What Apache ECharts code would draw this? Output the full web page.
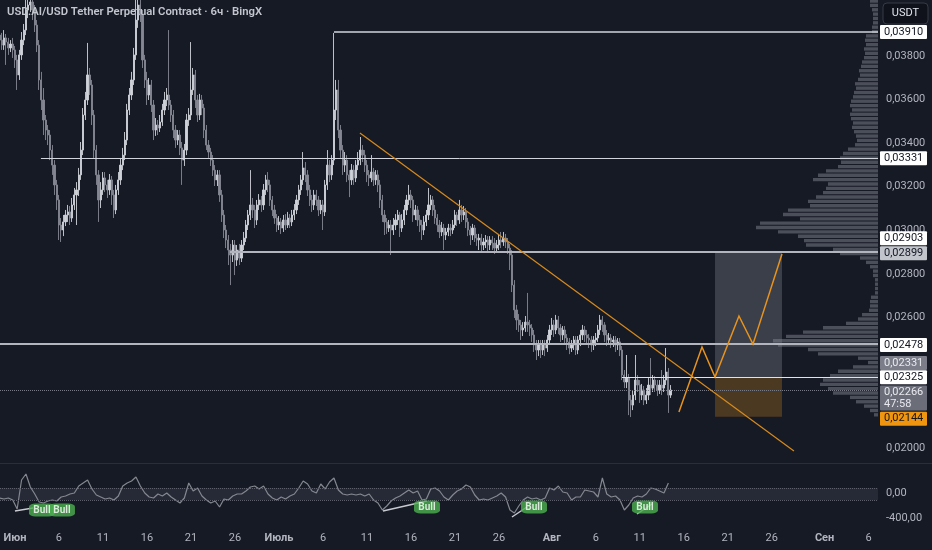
<!DOCTYPE html>
<html><head><meta charset="utf-8">
<script src="https://cdn.jsdelivr.net/npm/echarts@6/dist/echarts.min.js"></script>
<style>html,body{margin:0;padding:0;background:#161a25;}#c{width:932px;height:550px;}</style>
</head><body><div id="c"></div>
<script>
// ---------- DATA ----------
const title = 'USD.AI/USD Tether Perpetual Contract · 6ч · BingX';
const firstBarDay = -1.75;   // day offset from 1 June of the first 6h bar
const barStep = 0.25;        // 6h in days
const firstOpen = .03896;
const closes = [
.03873,.03850,.03883,.03864,.03837,.03855,.03828,.03782,.03713,.03805,
.03873,.03919,.04011,.04034,.04048,.04011,.03942,.03850,.03690,.03598,
.03506,.03460,.03437,.03368,.03299,.03208,.03139,.03024,.03001,.03038,
.03070,.03084,.03056,.03116,.03162,.03185,.03254,.03368,.03529,.03598,
.03713,.03667,.03529,.03368,.03254,.03139,.03185,.03240,.03208,.03185,
.03231,.03162,.03093,.03185,.03231,.03299,.03345,.03414,.03552,.03621,
.03690,.03805,.03965,.04034,.03988,.03782,.03690,.03621,.03667,.03575,
.03460,.03483,.03469,.03497,.03552,.03598,.03621,.03575,.03529,.03460,
.03414,.03437,.03378,.03322,.03368,.03506,.03529,.03644,.03713,.03598,
.03529,.03598,.03561,.03460,.03391,.03359,.03322,.03276,.03231,.03254,
.03162,.03070,.03001,.02955,.02909,.02886,.02932,.02863,.02909,.02872,
.02932,.02964,.03024,.03070,.03116,.03093,.03047,.03116,.03139,.03116,
.03185,.03231,.03208,.03139,.03093,.03056,.03024,.03038,.03010,.03047,
.03024,.03056,.03038,.03070,.03093,.03139,.03185,.03231,.03286,.03254,
.03185,.03139,.03116,.03162,.03139,.03093,.03116,.03084,.03208,.03299,
.03254,.03322,.03552,.03644,.03460,.03368,.03299,.03322,.03254,.03231,
.03276,.03240,.03299,.03322,.03368,.03345,.03299,.03254,.03240,.03267,
.03231,.03254,.03208,.03139,.03070,.03038,.03010,.03024,.03001,.03024,
.03047,.03070,.03010,.03047,.03093,.03139,.03162,.03139,.03070,.03093,
.03047,.03024,.03001,.03038,.03070,.03116,.03139,.03093,.03056,.03024,
.02992,.03010,.02978,.02992,.03010,.03001,.03024,.03070,.03047,.03093,
.03070,.03084,.03038,.03001,.02978,.03010,.02964,.02955,.02964,.02932,
.02946,.02955,.02932,.02955,.02941,.02918,.02932,.02955,.02946,.02964,
.02946,.02918,.02886,.02748,.02634,.02588,.02565,.02542,.02551,.02578,
.02565,.02551,.02519,.02473,.02450,.02473,.02450,.02473,.02459,.02496,
.02542,.02565,.02542,.02588,.02551,.02519,.02542,.02505,.02487,.02459,
.02473,.02496,.02450,.02496,.02519,.02542,.02519,.02505,.02496,.02473,
.02496,.02505,.02542,.02588,.02565,.02519,.02496,.02505,.02487,.02496,
.02473,.02487,.02450,.02335,.02303,.02321,.02220,.02197,.02243,.02312,
.02289,.02243,.02266,.02220,.02243,.02289,.02275,.02312,.02289,.02266,
.02289,.02275,.02312,.02349,.02243,.02266];
const highs = [
.03965,.03906,.03919,.03901,.03883,.03873,.03883,.03846,.03805,.03828,
.03910,.03947,.04103,.04126,.04149,.04094,.04034,.03965,.03873,.03727,
.03653,.03529,.03483,.03460,.03391,.03322,.03231,.03162,.03056,.03070,
.03093,.03116,.03111,.03148,.03194,.03221,.03286,.03405,.03561,.03635,
.03860,.03745,.03690,.03552,.03391,.03276,.03221,.03267,.03267,.03231,
.03258,.03249,.03185,.03208,.03267,.03332,.03378,.03451,.03580,.03653,
.03727,.03837,.04103,.04126,.04080,.04011,.03805,.03727,.03699,.03690,
.03598,.03515,.03506,.03529,.03580,.03635,.03653,.03919,.03598,.03552,
.03483,.03460,.03460,.03405,.03396,.03534,.03561,.03864,.03745,.03736,
.03621,.03626,.03621,.03580,.03483,.03414,.03378,.03345,.03299,.03276,
.03276,.03185,.03093,.03024,.02978,.02937,.02955,.02955,.02932,.02937,
.02955,.02992,.03047,.03093,.03276,.03148,.03116,.03139,.03166,.03157,
.03212,.03254,.03267,.03231,.03157,.03116,.03074,.03065,.03056,.03070,
.03074,.03084,.03074,.03093,.03120,.03162,.03208,.03254,.03359,.03313,
.03276,.03208,.03162,.03185,.03185,.03157,.03139,.03139,.03231,.03368,
.03322,.03345,.03906,.03690,.03690,.03483,.03391,.03359,.03345,.03276,
.03304,.03299,.03322,.03359,.03428,.03391,.03368,.03322,.03276,.03345,
.03286,.03276,.03276,.03231,.03162,.03093,.03056,.03047,.03047,.03056,
.03074,.03093,.03084,.03074,.03116,.03162,.03208,.03185,.03157,.03116,
.03111,.03070,.03047,.03065,.03093,.03194,.03162,.03157,.03116,.03074,
.03047,.03038,.03029,.03010,.03029,.03029,.03047,.03093,.03084,.03139,
.03116,.03111,.03102,.03056,.03019,.03029,.03024,.02983,.02983,.02983,
.02964,.02978,.02973,.02973,.02973,.02964,.02955,.02983,.02992,.02992,
.02983,.02964,.02937,.02909,.02771,.02657,.02615,.02588,.02578,.02606,
.02712,.02588,.02569,.02542,.02496,.02496,.02496,.02496,.02496,.02519,
.02565,.02597,.02588,.02611,.02606,.02569,.02560,.02560,.02523,.02505,
.02496,.02514,.02514,.02514,.02542,.02565,.02560,.02542,.02523,.02514,
.02514,.02528,.02565,.02611,.02606,.02578,.02542,.02528,.02523,.02514,
.02514,.02505,.02505,.02468,.02358,.02427,.02340,.02243,.02266,.02427,
.02335,.02312,.02294,.02285,.02275,.02321,.02413,.02335,.02330,.02312,
.02312,.02358,.02335,.02459,.02367,.02289];
const lows = [
.03805,.03828,.03828,.03759,.03805,.03818,.03791,.03745,.03644,.03690,
.03782,.03850,.03896,.03974,.04002,.03965,.03910,.03818,.03644,.03552,
.03437,.03414,.03391,.03322,.03254,.03162,.03093,.02955,.02946,.02973,
.03019,.03038,.03024,.03038,.03093,.03024,.03157,.03231,.03345,.03506,
.03575,.03621,.03483,.03332,.03208,.03038,.03102,.03162,.03175,.03148,
.03162,.03116,.03056,.03074,.03162,.03208,.03276,.03322,.03391,.03529,
.03598,.03667,.03782,.03929,.03956,.03745,.03653,.03575,.03598,.03543,
.03414,.03433,.03437,.03451,.03479,.03529,.03570,.03552,.03497,.03423,
.03378,.03391,.03345,.03208,.03295,.03345,.03479,.03506,.03621,.03561,
.03497,.03506,.03529,.03423,.03368,.03332,.03295,.03249,.03203,.03203,
.03130,.03038,.02964,.02918,.02840,.02748,.02854,.02794,.02836,.02840,
.02854,.02909,.02946,.03001,.03047,.03056,.03010,.03024,.03093,.03084,
.03093,.03162,.03175,.03111,.03065,.03029,.02992,.03001,.02983,.02992,
.03001,.03010,.03010,.03019,.03047,.03074,.03116,.03162,.03208,.03221,
.03157,.03111,.03084,.03093,.03111,.03065,.03074,.03001,.03065,.03185,
.03221,.03231,.03299,.03506,.03423,.03332,.03254,.03267,.03221,.03152,
.03208,.03208,.03221,.03276,.03299,.03313,.03267,.03221,.03203,.03221,
.03203,.03208,.03175,.03102,.03038,.02978,.02983,.02992,.02886,.02978,
.03001,.03024,.02969,.02992,.03024,.03070,.03116,.03102,.03038,.03047,
.03019,.02992,.02955,.02978,.03019,.03047,.03093,.03065,.03029,.02992,
.02964,.02973,.02909,.02955,.02973,.02973,.02983,.03010,.03019,.03029,
.03038,.03047,.03010,.02973,.02932,.02955,.02946,.02928,.02909,.02900,
.02909,.02918,.02900,.02909,.02909,.02891,.02900,.02909,.02918,.02928,
.02918,.02891,.02817,.02716,.02597,.02542,.02533,.02496,.02514,.02533,
.02533,.02514,.02487,.02441,.02404,.02422,.02413,.02427,.02422,.02441,
.02477,.02519,.02510,.02523,.02523,.02487,.02496,.02473,.02450,.02431,
.02441,.02450,.02427,.02431,.02468,.02496,.02487,.02473,.02459,.02441,
.02450,.02468,.02487,.02519,.02533,.02487,.02468,.02473,.02459,.02464,
.02441,.02450,.02422,.02312,.02275,.02275,.02151,.02142,.02174,.02220,
.02257,.02207,.02220,.02197,.02202,.02220,.02243,.02257,.02257,.02239,
.02248,.02243,.02257,.02289,.02161,.02230];

// oscillator (lower pane), one value every 2 bars
const oscStep = 0.5;
const oscillator = [
-80,-96,-80,-112,-256,208,304,96,-16,-144,
-160,-128,-112,-128,-64,-48,-16,0,112,160,
208,64,-32,-64,-96,-80,-112,-48,112,160,
192,256,112,0,-64,-80,-16,-48,0,-64,
-112,-160,-80,160,32,80,-48,-112,-160,-128,
-224,-96,-112,-48,-16,-16,32,96,112,64,
112,-16,-80,-112,-64,-96,-48,-16,80,192,
144,32,0,144,64,176,240,48,-16,-32,
-16,-32,-16,-48,-16,-112,-160,-272,-208,-128,
-80,-48,0,48,0,32,-112,-96,64,80,
32,-64,-112,-32,32,64,128,96,-32,-112,
-96,-112,-80,-48,0,-64,-272,-320,-208,-112,
-64,-96,-80,-112,-80,80,48,112,16,0,
-112,-64,-64,48,32,16,-64,240,-16,-64,
-48,-112,-272,-192,-80,-48,-64,-16,80,64,
32,0,160];
const oscBandHigh = 80, oscBandLow = -112;
const bullLabels = [[3.07,-272],[5.34,-272],[46.82,-224],[58.98,-224],[71.59,-224]];
const bullLines = [
  [[0,-288],[2.05,-240]],
  [[41.82,-288],[46.82,-128]],
  [[56.48,-384],[58.18,-224]],
  [[70.68,-336],[72.39,-176]]
];

// volume profile rows (top price, step, volumes)
const profileTop = 0.0405, profileStep = 0.0002;
const profileVolume = [
8,8,6,5,5,5,6,6,12,13, 12,14,13,14,16,17,19,18,20,23,
22,24,25,27,28,26,28,27,25,26, 24,22,21,23,30,35,38,37,40,52,
60,65,50,52,55,62,70,68,90,95, 78,118,122,100,80,74,72,45,38,18,
12,8,5,5,3,3,3,3,7,8, 8,9,16,20,32,55,75,92,105,100,
70,60,20,10,25,40,48,55,58,50, 45,28,22,14,8,4];

// axes ticks
const priceTicks = [0.020,0.022,0.024,0.026,0.028,0.030,0.032,0.034,0.036,0.038];
const timeTicks = [0,5,10,15,20,25,30,35,40,45,50,55,61,66,71,76,81,86,92,97];
const timeTickLabels = ['Июн','6','11','16','21','26','Июль','6','11','16','21','26','Авг','6','11','16','21','26','Сен','6'];
const oscTicks = [0,-400];

// drawings
const levelPrices = [0.03910, 0.03331, 0.02899, 0.02478, 0.02325];
const levelStartDays = [36.25, 2.95, 24.43, -1.70, 68.98];
const lastPrice = 0.02266;
const trendLine = [[39.2, 0.03446], [88.52, 0.01986]];
const zigzag = [[75.45,0.02165],[78.07,0.02464],[79.55,0.02326],[82.27,0.02606],[83.86,0.02477],[87.16,0.02891]];
const position = {from: 79.55, to: 87.16, target: 0.02903, entry: 0.02325, stop: 0.02144};
const tagValues = [0.03910, 0.03331, 0.02903, 0.02899, 0.02478, 0.02331, 0.02325, 0.02266, 0.02144];
const tagTexts = ['0,03910','0,03331','0,02903','0,02899','0,02478','0,02331','0,02325','0,02266\n47:58','0,02144'];

// ---------- STYLES ----------
const BG = '#161a25';
const AXIS_TXT = '#b2b5be';
const FONT = 'Roboto';
const tagStyles = [
  {bg:'#ffffff', fg:'#131722', shift:0},
  {bg:'#ffffff', fg:'#131722', shift:0},
  {bg:'#ffffff', fg:'#131722', shift:-13},
  {bg:'#c3c5cc', fg:'#131722', shift:1},
  {bg:'#ffffff', fg:'#131722', shift:1},
  {bg:'#7b7e89', fg:'#e8e9ee', shift:-13},
  {bg:'#ffffff', fg:'#131722', shift:0},
  {bg:'#6b6e79', fg:'#e8e9ee', shift:8},
  {bg:'#f0950f', fg:'#131722', shift:2}
];
const levelStyles = [
  {color:'#d1d4dc', width:1.5},
  {color:'#d1d4dc', width:1},
  {color:'#b2b5be', width:2},
  {color:'#b2b5be', width:2},
  {color:'#e0e3eb', width:1}
];

const xMin = -1.70, xMax = 98.07, yMin = 0.019311, yMax = 0.040571;

// ---------- BUILD ----------
const candles = closes.map((c, i) => [firstBarDay + i * barStep, i ? closes[i - 1] : firstOpen, c, lows[i], highs[i]]);
const oscData = oscillator.map((v, k) => [firstBarDay + k * oscStep, v]);
const profileData = profileVolume.map((v, i) => [v, profileTop - i * profileStep]);
const fmtPrice = v => v.toFixed(5).replace('.', ',');

const chart = echarts.init(document.getElementById('c'));
chart.setOption({
  backgroundColor: BG,
  animation: false,
  grid: [
    {left: 0, right: 54, top: 0, height: 463},
    {left: 0, right: 54, top: 466, height: 59},
    {left: 578, width: 300, top: 0, height: 463}
  ],
  xAxis: [
    {type:'value', gridIndex:0, min:xMin, max:xMax, show:false},
    {type:'value', gridIndex:1, min:xMin, max:xMax,
      axisLine:{show:false}, axisTick:{show:false}, splitLine:{show:false},
      axisLabel:{customValues: timeTicks, margin: 8, color: AXIS_TXT, fontSize: 11, fontFamily: FONT,
        formatter: v => { const j = timeTicks.indexOf(v); const t = timeTickLabels[j]; return isNaN(+t) ? '{m|' + t + '}' : t; },
        rich: {m: {fontWeight: 'bold', color: AXIS_TXT, fontSize: 11, fontFamily: FONT}}}},
    {type:'value', gridIndex:2, min:0, max:300, inverse:true, show:false}
  ],
  yAxis: [
    {type:'value', gridIndex:0, position:'right', min:yMin, max:yMax,
      axisLine:{show:false}, axisTick:{show:false}, splitLine:{show:false},
      axisLabel:{customValues: priceTicks, formatter: fmtPrice, margin: 8, color: AXIS_TXT, fontSize: 11, fontFamily: FONT}},
    {type:'value', gridIndex:1, position:'right', min:-512, max:432,
      axisLine:{show:false}, axisTick:{show:false}, splitLine:{show:false},
      axisLabel:{customValues: oscTicks, formatter: v => v.toFixed(2).replace('.', ','), margin: 8, color: AXIS_TXT, fontSize: 11, fontFamily: FONT}},
    {type:'value', gridIndex:2, min:yMin, max:yMax, show:false}
  ],
  series: [
    {
      type:'custom', xAxisIndex:2, yAxisIndex:2, z:1, silent:true, data: profileData,
      renderItem: (params, api) => {
        const v = api.value(0), p = api.value(1);
        const a = api.coord([v, p + profileStep / 2]);
        const b = api.coord([0, p - profileStep / 2]);
        return {type:'rect', shape:{x:a[0], y:a[1], width:b[0]-a[0], height:Math.max(1, b[1]-a[1]-1)},
          style:{fill:'rgba(128,131,142,0.5)'}};
      }
    },
    {
      type:'candlestick', xAxisIndex:0, yAxisIndex:0, z:3, data: candles,
      encode:{x:0, y:[1,2,3,4]}, barWidth: 1.7, silent:true,
      itemStyle:{color:'#cfd2d9', color0:'#858892', borderColor:'#cfd2d9', borderColor0:'#858892', borderWidth:0.9},
      markArea:{silent:true, data:[
        [{xAxis:position.from, yAxis:position.target, itemStyle:{color:'rgba(120,124,138,0.38)'}}, {xAxis:position.to, yAxis:position.entry}],
        [{xAxis:position.from, yAxis:position.entry, itemStyle:{color:'rgba(150,100,30,0.42)'}}, {xAxis:position.to, yAxis:position.stop}]
      ]}
    },
    {
      type:'lines', coordinateSystem:'cartesian2d', xAxisIndex:0, yAxisIndex:0, z:4, silent:true,
      data: levelPrices.map((p, i) => ({coords:[[levelStartDays[i], p], [xMax, p]], lineStyle:levelStyles[i]}))
        .concat([{coords:[[xMin, lastPrice],[xMax, lastPrice]], lineStyle:{color:'#787b86', width:1, type:'dotted'}}]),
      lineStyle:{opacity:1}
    },
    {
      type:'lines', coordinateSystem:'cartesian2d', xAxisIndex:0, yAxisIndex:0, z:5, silent:true,
      data:[{coords: trendLine}], lineStyle:{color:'#d88a1c', width:1.2, opacity:1}
    },
    {
      type:'lines', coordinateSystem:'cartesian2d', xAxisIndex:0, yAxisIndex:0, z:6, silent:true, polyline:true,
      symbol:['none','arrow'], symbolSize:7,
      data:[{coords: zigzag}], lineStyle:{color:'#e8931c', width:1.5, opacity:1}
    },
    {
      type:'line', xAxisIndex:1, yAxisIndex:1, z:3, data: oscData, showSymbol:false, silent:true,
      lineStyle:{color:'#85888f', width:1.2},
      markArea:{silent:true, itemStyle:{color:'rgba(126,130,148,0.16)'}, data:[[{xAxis:xMin, yAxis:oscBandHigh},{xAxis:xMax, yAxis:oscBandLow}]]},
      markLine:{silent:true, symbol:'none', label:{show:false}, lineStyle:{color:'#5d606b', type:'dotted', width:1},
        data:[{yAxis:oscBandHigh},{yAxis:oscBandLow}]}
    },
    {
      type:'lines', coordinateSystem:'cartesian2d', xAxisIndex:1, yAxisIndex:1, z:4, silent:true,
      data: bullLines.map(c => ({coords:c})), lineStyle:{color:'#c8cad0', width:1.5, opacity:1}
    },
    {
      type:'scatter', xAxisIndex:1, yAxisIndex:1, z:5, silent:true, data: bullLabels,
      symbol:'roundRect', symbolSize:[26,13], itemStyle:{color:'#4caf50'},
      label:{show:true, position:'inside', formatter:'Bull', color:'#ffffff', fontSize:10, fontWeight:'bold', fontFamily: FONT}
    }
  ]
});

// ---------- GRAPHICS (title, axis tags) ----------
const gfx = [
  {type:'rect', shape:{x:0, y:463, width:932, height:1}, style:{fill:'#2a2e39'}, z:10},
  {type:'text', left:7, top:7, z:10, style:{text:title, fill:'#c3c6ce', font:'600 11.3px ' + FONT}},
  {type:'rect', shape:{x:883, y:3, width:45, height:21, r:4}, style:{fill:'#0f121a', stroke:'#363a45', lineWidth:1}, z:10},
  {type:'text', x:905.5, y:13.5, z:11, style:{text:'USDT', fill:'#e0e3eb', font:'11px ' + FONT, align:'center', verticalAlign:'middle'}}
];
tagValues.forEach((v, i) => {
  const st = tagStyles[i];
  const y = chart.convertToPixel({yAxisIndex:0}, v) + st.shift;
  const n = tagTexts[i].split('\n').length;
  const h = n > 1 ? 25 : 14;
  gfx.push({type:'rect', z:12, shape:{x:880, y:y - h/2, width:47, height:h, r:1}, style:{fill:st.bg}});
  gfx.push({type:'text', z:13, x:884, y:y, style:{text:tagTexts[i], fill:st.fg, font:'11px ' + FONT, verticalAlign:'middle', lineHeight:12}});
});
chart.setOption({graphic: gfx});
</script>
</body></html>
